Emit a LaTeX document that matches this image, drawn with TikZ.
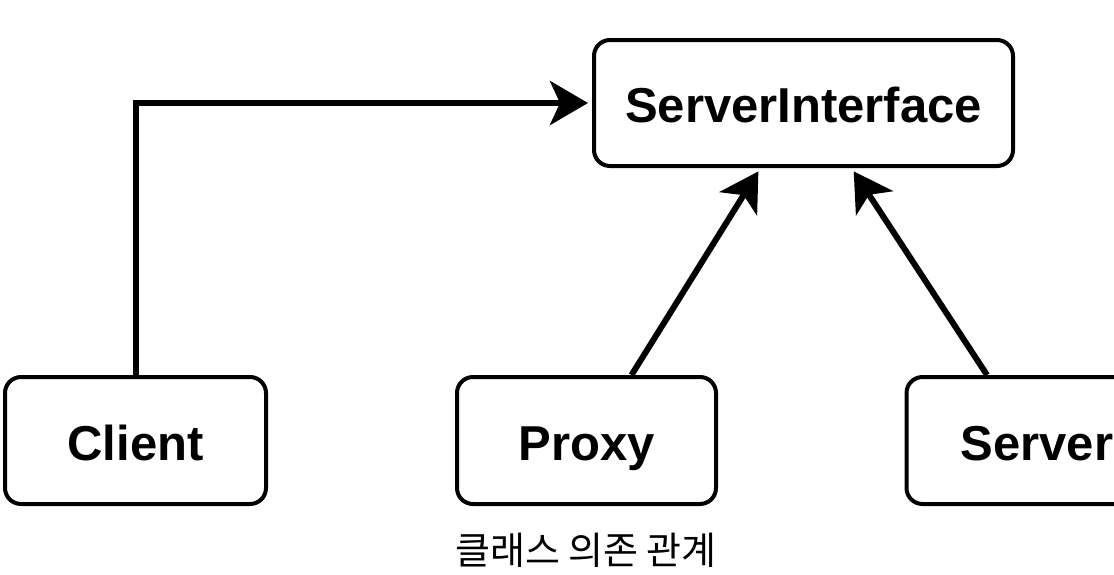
\documentclass[tikz,border=0pt]{standalone}
\usepackage{fontspec}
\setmainfont{Liberation Sans}
\newfontfamily\krfont{Noto Sans CJK KR}
\usetikzlibrary{arrows.meta}
\begin{document}
\begin{tikzpicture}[x=1pt,y=-1pt,
  box/.style={draw=black, line width=4pt, rounded corners=16pt, fill=white,
    inner sep=0pt, text height=39pt, text depth=0pt,
    font=\fontsize{49}{49}\selectfont\bfseries},
  link/.style={draw=black, line width=6pt, line join=miter,
    -{Stealth[length=38pt,width=44pt,inset=10pt]}, shorten >=4pt}
]
\useasboundingbox (0,0) rectangle (1114,574);
\clip (0,0) rectangle (1114,574);
\node[box, minimum width=419pt, minimum height=126pt] (si) at (803.5,103) {ServerInterface};
\node[box, minimum width=261pt, minimum height=127pt] (client) at (135.5,440.5) {Client};
\node[box, minimum width=259pt, minimum height=127pt] (proxy) at (586.5,440.5) {Proxy};
\node[box, minimum width=261pt, minimum height=127pt] (server) at (1037,440.5) {Server};
\node[font=\krfont\fontsize{38}{38}\selectfont, anchor=center] (cap) at (586,550) {클래스 의존 관계};
\draw[link] ([xshift=0.5pt]client.north) |- (si.west);
\draw[link] ([xshift=45pt]proxy.north) -- ([xshift=-43pt]si.south);
\draw[link] ([xshift=-50pt]server.north) -- ([xshift=48pt]si.south);
\end{tikzpicture}
\end{document}
